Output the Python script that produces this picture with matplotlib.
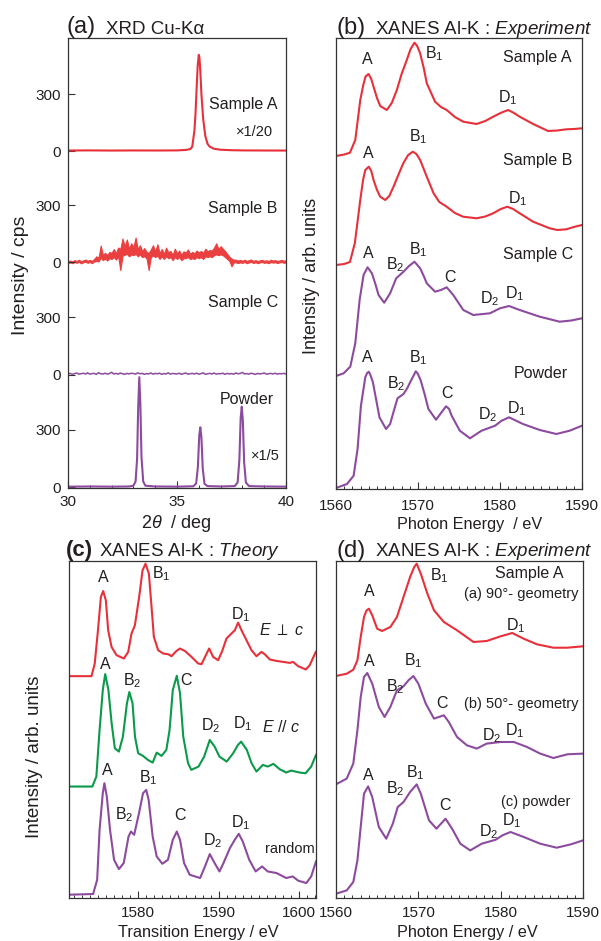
import numpy as np
import matplotlib
matplotlib.use("Agg")
import matplotlib.pyplot as plt
from matplotlib.ticker import MultipleLocator

plt.rcParams['font.family'] = ['Liberation Sans', 'DejaVu Sans']
plt.rcParams['mathtext.fontset'] = 'custom'
plt.rcParams['mathtext.rm'] = 'Liberation Sans'
plt.rcParams['mathtext.it'] = 'Liberation Sans:italic'
plt.rcParams['mathtext.bf'] = 'Liberation Sans:bold'

RED = '#e8303a'
RED_LIGHT = '#ea4040'
PURPLE = '#8c4b9e'
GREEN = '#0b9a4a'
TXT = '#231f20'

# ---------------- (a) XRD data, 2theta [deg] vs cps ----------------
# Sample A (raw counts, plotted x 1/20)
xrd_a = np.array([
    (30.0, 100), (31.0, 110), (32.0, 95), (33.0, 105), (34.0, 100), (35.0, 110),
    (35.4, 160), (35.6, 240), (35.7, 500), (35.8, 2200), (35.85, 4000), (35.9, 6600),
    (35.95, 9000), (36.0, 10100), (36.03, 9800), (36.07, 8400), (36.12, 6000),
    (36.2, 3400), (36.3, 1600), (36.4, 800), (36.5, 500), (36.7, 280), (37.0, 180),
    (37.5, 130), (38.0, 110), (39.0, 100), (40.0, 95)])

# Samples B and C, scan 30-40 deg in 0.1 deg steps
two_theta = np.round(np.arange(300, 401) / 10.0, 1)
# Sample B is very noisy: upper and lower edge of the noise band
xrd_b_hi = np.array([
    6, 10, 5, 12, 8, 14, 6, 11, 15, 9,
    13, 8, 18, 32, 25, 88, 40, 50, 38, 55,
    50, 70, 48, 78, 70, 125, 85, 120, 72, 100,
    80, 130, 70, 90, 60, 75, 55, 50, 68, 90,
    58, 95, 50, 70, 45, 78, 52, 60, 40, 72,
    48, 62, 40, 58, 52, 68, 45, 55, 48, 62,
    52, 60, 50, 72, 58, 65, 62, 78, 100, 70,
    85, 72, 60, 45, 30, 20, 15, 14, 10, 13,
    9, 14, 8, 12, 15, 8, 12, 7, 11, 13,
    9, 11, 8, 14, 10, 12, 8, 10, 13, 9,
    11])
xrd_b_lo = np.array([
    -3, 0, -4, 2, -2, 3, -5, 1, 4, -2,
    2, -4, 5, 8, 5, 25, 12, 20, 10, 22,
    18, 28, 15, 32, -40, 35, 40, 45, 32, 42,
    38, 45, 32, 42, 28, 32, 22, -40, 28, 36,
    28, 36, 18, 32, 18, 32, 22, 28, 12, 28,
    18, 28, 12, 22, 22, 28, 18, 22, 18, 28,
    22, 28, 18, 32, 28, 32, 28, 38, 42, 38,
    42, 38, 28, 18, 8, -20, 0, 0, -3, 0,
    -2, 2, -4, 0, 3, -3, 1, -4, 0, 2,
    -2, 0, -4, 2, -1, 1, -3, 0, 2, -2,
    0])
xrd_c = np.array([
    3, 6, 1, 5, 8, 2, 4, 7, 3, 9,
    2, 5, 6, 1, 10, 4, 3, 7, 2, 5,
    12, 3, 6, 2, 8, 4, 1, 6, 3, 7,
    5, 2, 9, 4, 6, 1, 5, 3, 8, 2,
    6, 4, 7, 1, 5, 3, 9, 2, 6, 4,
    3, 7, 1, 5, 8, 2, 4, 6, 3, 7,
    2, 5, 9, 1, 4, 6, 3, 8, 2, 5,
    4, 7, 1, 6, 3, 5, 2, 8, 4, 6,
    11, 3, 5, 2, 7, 4, 1, 6, 3, 5,
    8, 2, 4, 6, 3, 7, 2, 5, 4, 6,
    3])

# Powder (raw counts, plotted x 1/5)
xrd_p = np.array([
    (30.0, 15), (31.0, 20), (32.0, 15), (32.8, 20), (33.0, 40), (33.1, 150),
    (33.17, 750), (33.22, 2100), (33.27, 2875), (33.32, 2150), (33.37, 800),
    (33.45, 150), (33.55, 40), (34.0, 20), (35.0, 15), (35.75, 25), (35.88, 100),
    (35.96, 550), (36.02, 1350), (36.07, 1565), (36.12, 1300), (36.18, 500),
    (36.26, 90), (36.4, 30), (37.0, 20), (37.65, 30), (37.78, 125), (37.86, 700),
    (37.92, 1800), (37.97, 2105), (38.02, 1750), (38.08, 650), (38.16, 125),
    (38.3, 30), (39.0, 20), (40.0, 15)])

# ---------------- (b) XANES experiment, photon energy [eV] ----------------
b_sample_a = np.array([
    (1560.0, 0), (1561.0, 1.5), (1561.7, 3.3), (1562.35, 16), (1562.96, 56),
    (1563.3, 70), (1563.6, 79.5), (1563.97, 82), (1564.3, 77), (1564.58, 69.3),
    (1565.0, 58), (1565.39, 50), (1566.2, 46), (1566.8, 53), (1567.42, 66),
    (1568.0, 82), (1568.63, 96), (1569.1, 107), (1569.57, 113.3), (1569.9, 110),
    (1570.26, 102.7), (1570.7, 88), (1571.07, 72.7), (1572.08, 54.3), (1572.8, 49),
    (1573.5, 46), (1574.5, 39), (1575.52, 34.3), (1577.15, 32), (1578.2, 35),
    (1579.17, 39.3), (1580.2, 43.5), (1581.0, 46), (1581.7, 43), (1582.4, 39.3),
    (1584.04, 32), (1585.86, 25), (1587.0, 25.5), (1588.09, 26.7), (1589.0, 27),
    (1590.0, 27.7)])
b_sample_b = np.array([
    (1560.0, 0), (1561.0, 1), (1561.7, 3), (1562.3, 22), (1562.96, 65), (1563.3, 85),
    (1563.57, 95), (1564.0, 98.3), (1564.3, 94), (1564.58, 85), (1565.0, 75),
    (1565.39, 68.3), (1566.0, 65), (1566.5, 69), (1567.0, 78), (1567.6, 90),
    (1568.2, 101.7), (1568.8, 110), (1569.37, 113.3), (1569.8, 111), (1570.26, 105),
    (1570.7, 96), (1571.07, 88.3), (1571.9, 71.7), (1572.6, 63), (1573.5, 58.3),
    (1574.5, 52), (1575.5, 48.3), (1577.15, 46.7), (1578.2, 48.5), (1579.17, 51.7),
    (1580.1, 56), (1580.9, 58.3), (1581.6, 56), (1582.4, 51.7), (1584.04, 43.3),
    (1586.06, 36.7), (1587.0, 35), (1588.1, 35.7), (1589.0, 38), (1590.0, 40)])
b_sample_c = np.array([
    (1560.0, 0), (1560.93, 2.7), (1561.74, 9.3), (1562.35, 32.7), (1562.88, 76),
    (1563.36, 101), (1563.85, 108.7), (1564.38, 102.7), (1564.8, 92), (1565.19, 81),
    (1565.88, 73.3), (1566.6, 82.7), (1567.34, 97.7), (1568.23, 104.3), (1568.9, 110),
    (1569.57, 114.3), (1570.26, 107.7), (1570.7, 100), (1571.07, 92.7), (1572.08, 84.3),
    (1572.8, 86), (1573.5, 88.7), (1574.3, 81), (1575.52, 66), (1576.74, 61),
    (1578.77, 62.7), (1580.0, 67.7), (1581.1, 70), (1582.4, 66), (1584.85, 59.3),
    (1587.28, 54.3), (1588.7, 55.5), (1590.0, 57.7)])
b_powder = np.array([
    (1560.0, 0), (1561.34, 4), (1562.15, 12.3), (1562.63, 39), (1563.04, 82.3),
    (1563.57, 110.7), (1563.8, 115), (1564.0, 116.3), (1564.2, 113), (1564.5, 105.7),
    (1565.3, 70.7), (1566.1, 59), (1566.6, 64), (1567.0, 75.7), (1567.5, 89.7),
    (1568.23, 94), (1568.7, 100), (1569.04, 105.7), (1569.73, 116.7), (1570.0, 114),
    (1570.34, 107.3), (1570.8, 94), (1571.27, 79), (1572.2, 68.3), (1572.9, 76),
    (1573.42, 81.7), (1573.8, 79), (1574.1, 72.3), (1575.1, 57.3), (1576.34, 49.7),
    (1577.75, 57.3), (1579.4, 62.3), (1580.2, 67.3), (1581.1, 70.7), (1582.8, 64),
    (1584.85, 58), (1586.87, 54), (1588.5, 57.3), (1590.0, 62.3)])

# ---------------- (c) XANES theory, transition energy [eV] ----------------
c_perp = np.array([
    (1571.4, 0), (1574.2, 0), (1574.6, 12.7), (1575.0, 46), (1575.36, 79.3),
    (1575.65, 85.3), (1575.98, 76), (1576.27, 46), (1576.69, 29.3), (1577.31, 21),
    (1578.22, 17.7), (1578.76, 24.3), (1579.17, 42.7), (1579.59, 51), (1580.12, 79.3),
    (1580.54, 106), (1580.91, 112.7), (1581.33, 102.7), (1581.66, 69.3), (1581.95, 39.3),
    (1582.48, 26), (1583.11, 22.7), (1583.73, 22), (1584.14, 20), (1584.76, 25.3),
    (1585.18, 27.7), (1585.8, 25.3), (1586.63, 19.3), (1587.45, 12.7), (1587.87, 12),
    (1588.41, 21), (1588.82, 27.7), (1589.32, 19.3), (1589.94, 16), (1590.48, 26),
    (1590.97, 37.7), (1591.59, 42.7), (1592.01, 46), (1592.42, 53.7), (1592.84, 46),
    (1593.46, 36), (1594.08, 26), (1594.7, 20), (1595.32, 24.3), (1595.73, 22),
    (1596.36, 16.7), (1597.18, 15.3), (1598.01, 14.3), (1598.84, 13.3), (1599.25, 14.3),
    (1599.88, 10), (1600.83, 6.7), (1601.32, 11), (1602.07, 24.3)])
c_para = np.array([
    (1571.4, 0), (1574.3, 0), (1574.8, 10), (1575.2, 56.7), (1575.6, 96.7),
    (1575.9, 112.7), (1576.3, 96.7), (1576.7, 63.3), (1577.1, 38.3), (1577.6, 35),
    (1578.1, 50), (1578.6, 83.3), (1578.9, 94.7), (1579.3, 83.3), (1579.6, 50),
    (1580.0, 33.3), (1580.6, 30.7), (1581.2, 26.7), (1581.8, 24), (1582.3, 34),
    (1582.9, 30.7), (1583.5, 36.7), (1583.9, 56.7), (1584.3, 96.7), (1584.8, 111),
    (1585.2, 93.3), (1585.6, 50), (1586.2, 23.3), (1586.6, 16.7), (1587.5, 20),
    (1588.2, 30), (1588.9, 46.7), (1589.5, 40), (1590.1, 30), (1591.0, 25),
    (1591.8, 33.3), (1592.4, 41.7), (1592.8, 45), (1593.5, 36.7), (1594.1, 23.3),
    (1594.7, 15), (1595.5, 21.7), (1596.1, 20), (1596.8, 22.7), (1597.6, 17.3),
    (1598.4, 14), (1599.0, 16), (1600.1, 14), (1600.8, 13.3), (1601.5, 20),
    (1602.1, 31.7)])
c_random = np.array([
    (1571.4, 0), (1574.4, 0.7), (1574.9, 15), (1575.2, 65), (1575.6, 101.7),
    (1575.8, 111.7), (1576.1, 98.3), (1576.5, 65), (1577.0, 35), (1577.6, 25.7),
    (1578.2, 31.7), (1578.8, 58.3), (1579.1, 63.3), (1579.5, 60), (1580.1, 81.7),
    (1580.6, 101.7), (1581.0, 105), (1581.3, 95), (1581.8, 58.3), (1582.3, 38.3),
    (1583.0, 31), (1583.7, 35), (1584.3, 55), (1584.8, 63.3), (1585.2, 55),
    (1585.7, 31.7), (1586.4, 20), (1587.7, 16.7), (1588.3, 28.3), (1588.9, 40.7),
    (1589.5, 31.7), (1590.1, 23.3), (1590.6, 31.7), (1591.4, 46.7), (1592.0, 55),
    (1592.5, 61), (1593.0, 53.3), (1593.8, 35), (1594.6, 23.3), (1595.4, 28.3),
    (1596.1, 23.3), (1597.2, 21.7), (1598.4, 16.7), (1599.2, 18.3), (1599.9, 14),
    (1600.9, 11.7), (1601.5, 18.3), (1602.1, 33.3)])

# ---------------- (d) XANES experiment, Sample A geometry ----------------
d_90 = np.array([
    (1560.0, 0), (1561.3, 2.3), (1562.1, 6.3), (1562.6, 15.7), (1563.0, 39),
    (1563.4, 59), (1563.7, 65.5), (1564.0, 67.3), (1564.4, 60.7), (1565.0, 47.3),
    (1565.6, 45), (1566.6, 49), (1567.4, 59), (1568.2, 79), (1569.0, 99),
    (1569.5, 109), (1569.8, 112.3), (1570.3, 102.3), (1571.1, 82.3), (1571.9, 65.7),
    (1573.1, 54), (1574.7, 45.7), (1576.7, 34), (1578.3, 35), (1580.0, 39.7),
    (1581.4, 43), (1582.8, 37.3), (1584.4, 31.7), (1586.4, 28.3), (1588.1, 28.3),
    (1590.0, 29.7)])
d_50 = np.array([
    (1560.0, 0), (1561.3, 5.7), (1562.1, 20.7), (1562.6, 54), (1563.0, 87.3),
    (1563.4, 107.3), (1563.8, 111.3), (1564.4, 100.7), (1565.2, 77.3), (1565.9, 67.3),
    (1566.6, 77.3), (1567.4, 94), (1568.2, 98), (1568.8, 104), (1569.4, 108.3),
    (1570.0, 100.7), (1570.9, 80.7), (1571.9, 65.7), (1573.1, 69), (1573.7, 62.3),
    (1574.7, 47.3), (1575.9, 39), (1577.1, 35.7), (1578.3, 40.7), (1580.0, 42.3),
    (1581.6, 42.3), (1583.2, 37.3), (1584.8, 30.7), (1586.4, 26.3), (1588.1, 30),
    (1590.0, 30.7)])
d_powder = np.array([
    (1560.0, 0), (1561.3, 3.3), (1562.1, 11.7), (1562.6, 33.3), (1563.0, 66.7),
    (1563.4, 100), (1563.9, 107.3), (1564.4, 96.7), (1565.2, 66.7), (1566.1, 55),
    (1566.9, 70), (1567.5, 86.7), (1568.2, 91.7), (1569.0, 101.7), (1569.8, 109.3),
    (1570.3, 100), (1571.3, 73.3), (1572.2, 65), (1573.3, 75), (1574.1, 65),
    (1575.1, 50), (1576.3, 43.3), (1577.7, 50), (1579.4, 54), (1580.2, 58.3),
    (1581.2, 61.7), (1582.8, 56.7), (1584.8, 50), (1586.8, 46), (1588.5, 49.3),
    (1590.0, 53.3)])

# ---------------- figure ----------------
W, H = 601, 941
fig = plt.figure(figsize=(W / 100, H / 100), dpi=100)


def box(l, t, r, b):
    return [l / W, 1 - b / H, (r - l) / W, (b - t) / H]


def fp(x, y):
    return x / W, 1 - y / H


def style(ax, pad):
    for s in ax.spines.values():
        s.set_color('#333333')
        s.set_linewidth(0.9)
    ax.tick_params(which='both', direction='in', top=False, right=False,
                   colors='#333333', labelcolor=TXT, labelsize=11, pad=pad)
    ax.tick_params(which='major', length=5, width=0.8)
    ax.tick_params(which='minor', length=2.5, width=0.7)


ax_a = fig.add_axes(box(68, 38, 286, 488))
ax_b = fig.add_axes(box(336, 38, 582, 489))
ax_c = fig.add_axes(box(69, 561, 316, 898))
ax_d = fig.add_axes(box(336, 561, 583, 898))

LBL = 11.5

# ---- (a)
offs = [1755, 1175, 589, 0]
ax_a.plot(xrd_a[:, 0], xrd_a[:, 1] / 20 + offs[0], color=RED, lw=1.5)
ax_a.fill_between(two_theta, xrd_b_lo + offs[1], xrd_b_hi + offs[1],
                  color=RED_LIGHT, lw=0.8, edgecolor=RED_LIGHT)
ax_a.plot(two_theta, xrd_c + offs[2], color=PURPLE, lw=1.1)
ax_a.plot(xrd_p[:, 0], xrd_p[:, 1] / 5 + offs[3], color=PURPLE, lw=1.5)
ax_a.set_xlim(30, 40)
ax_a.set_ylim(-4, 2348)
ax_a.set_xticks([30, 35, 40])
ax_a.xaxis.set_minor_locator(MultipleLocator(1))
ax_a.set_yticks([o + v for o in offs for v in (0, 300)])
ax_a.set_yticklabels(['0', '300'] * 4)
style(ax_a, 5)
for txt, x, y, fs in [('Sample A', 38.03, 1998, LBL), ('×1/20', 38.55, 1858, 10.5),
                      ('Sample B', 38.03, 1455, LBL), ('Sample C', 38.04, 963, LBL),
                      ('Powder', 38.2, 459, LBL), ('×1/5', 39.05, 163, 10.5)]:
    ax_a.text(x, y, txt, ha='center', va='center', fontsize=fs, color=TXT)

# ---- (b)
for arr, off, col in [(b_sample_a, 333, RED), (b_sample_b, 224, RED),
                      (b_sample_c, 113, PURPLE), (b_powder, 1, PURPLE)]:
    ax_b.plot(arr[:, 0], arr[:, 1] + off, color=col, lw=1.5)
ax_b.set_xlim(1560, 1590)
ax_b.set_ylim(0, 451)
ax_b.set_yticks([])
ax_b.set_xticks([1560, 1570, 1580, 1590])
ax_b.xaxis.set_minor_locator(MultipleLocator(1))
style(ax_b, 7)
labels_b = [('A', 1563.8, 429), ('B$_1$', 1572.0, 435), ('Sample A', 1584.6, 431),
            ('D$_1$', 1581.0, 391),
            ('A', 1563.9, 336), ('B$_1$', 1570.0, 352), ('Sample B', 1584.6, 328),
            ('D$_1$', 1582.2, 290),
            ('A', 1563.9, 236), ('B$_2$', 1567.2, 224), ('B$_1$', 1570.0, 239),
            ('Sample C', 1584.6, 234), ('C', 1573.9, 212), ('D$_2$', 1578.7, 190),
            ('D$_1$', 1581.8, 195),
            ('A', 1563.8, 131), ('B$_2$', 1567.4, 105), ('B$_1$', 1570.0, 131),
            ('Powder', 1585.0, 116), ('C', 1573.5, 96), ('D$_2$', 1578.5, 74),
            ('D$_1$', 1582.0, 80)]
for txt, x, y in labels_b:
    ax_b.text(x, y, txt, ha='center', va='center', fontsize=LBL, color=TXT)

# ---- (c)
for arr, off, col in [(c_perp, 222.3, RED), (c_para, 111.7, GREEN), (c_random, 3.3, PURPLE)]:
    ax_c.plot(arr[:, 0], arr[:, 1] + off, color=col, lw=1.5)
ax_c.set_xlim(1571.4, 1602.1)
ax_c.set_ylim(0, 337.7)
ax_c.set_yticks([])
ax_c.set_xticks([1580, 1590, 1600])
ax_c.xaxis.set_minor_locator(MultipleLocator(1))
style(ax_c, 6)
labels_c = [('A', 1575.6, 321), ('B$_1$', 1582.9, 325), ('D$_1$', 1592.7, 284),
            ('A', 1575.9, 234), ('B$_2$', 1579.2, 218), ('C', 1585.9, 218),
            ('D$_2$', 1589.0, 173), ('D$_1$', 1593.0, 175),
            ('A', 1576.1, 128), ('B$_2$', 1578.3, 84), ('B$_1$', 1581.2, 121),
            ('C', 1585.2, 83), ('D$_2$', 1589.2, 57), ('D$_1$', 1592.8, 76)]
for txt, x, y in labels_c:
    ax_c.text(x, y, txt, ha='center', va='center', fontsize=LBL, color=TXT)
ax_c.text(1597.9, 269, r'$E$ $\perp$ $c$', ha='center', va='center', fontsize=LBL, color=TXT)
ax_c.text(1597.8, 171, r'$E\ //\ c$', ha='center', va='center', fontsize=LBL, color=TXT)
ax_c.text(1598.8, 49, 'random', ha='center', va='center', fontsize=10.5, color=TXT)

# ---- (d)
for arr, off, col in [(d_90, 222, RED), (d_50, 113.7, PURPLE), (d_powder, 4.3, PURPLE)]:
    ax_d.plot(arr[:, 0], arr[:, 1] + off, color=col, lw=1.5)
ax_d.set_xlim(1560, 1590)
ax_d.set_ylim(0, 337)
ax_d.set_yticks([])
ax_d.set_xticks([1560, 1570, 1580, 1590])
ax_d.xaxis.set_minor_locator(MultipleLocator(1))
style(ax_d, 6)
labels_d = [('A', 1564.0, 306), ('B$_1$', 1572.5, 322.7), ('D$_1$', 1581.8, 272.7),
            ('A', 1564.0, 237), ('B$_2$', 1567.2, 211.7), ('B$_1$', 1569.4, 237.7),
            ('C', 1572.9, 195), ('D$_2$', 1578.9, 162.7), ('D$_1$', 1581.7, 167.7),
            ('A', 1563.9, 122.7), ('B$_2$', 1567.2, 109.3), ('B$_1$', 1569.6, 125),
            ('C', 1573.2, 92.7), ('D$_2$', 1578.5, 66.7), ('D$_1$', 1581.3, 77)]
for txt, x, y in labels_d:
    ax_d.text(x, y, txt, ha='center', va='center', fontsize=LBL, color=TXT)
ax_d.text(1583.5, 324.3, 'Sample A', ha='center', va='center', fontsize=LBL, color=TXT)
ax_d.text(1582.5, 304.3, '(a) 90°- geometry', ha='center', va='center', fontsize=10.5, color=TXT)
ax_d.text(1582.5, 194.3, '(b) 50°- geometry', ha='center', va='center', fontsize=10.5, color=TXT)
ax_d.text(1584.2, 96, '(c) powder', ha='center', va='center', fontsize=10.5, color=TXT)

# ---- panel titles
TT = 13.5
fig.text(*fp(66, 33.5), '(a)', fontsize=17, va='baseline', color=TXT)
fig.text(*fp(106, 33.5), 'XRD Cu-Kα', fontsize=TT, va='baseline', color=TXT)
fig.text(*fp(337, 34), '(b)', fontsize=17, va='baseline', color=TXT)
fig.text(*fp(375, 34), r'XANES Al-K : $\mathit{Experiment}$', fontsize=TT, va='baseline', color=TXT)
fig.text(*fp(66, 556), '(c)', fontsize=16, va='baseline', color=TXT, fontweight='bold')
fig.text(*fp(99, 556), r'XANES Al-K : $\mathit{Theory}$', fontsize=TT, va='baseline', color=TXT)
fig.text(*fp(337, 556.5), '(d)', fontsize=17, va='baseline', color=TXT)
fig.text(*fp(375, 556.5), r'XANES Al-K : $\mathit{Experiment}$', fontsize=TT, va='baseline', color=TXT)

# ---- axis labels
fig.text(*fp(21, 275), 'Intensity / cps', rotation=90, ha='center', va='center', fontsize=14, color=TXT)
fig.text(*fp(176, 523), r'2$\theta$  / deg', ha='center', va='center', fontsize=13, color=TXT)
fig.text(*fp(312, 276), 'Intensity / arb. units', rotation=90, ha='center', va='center', fontsize=13, color=TXT)
fig.text(*fp(470, 524), 'Photon Energy  / eV', ha='center', va='center', fontsize=11.7, color=TXT)
fig.text(*fp(35, 757), 'Intensity / arb. units', rotation=90, ha='center', va='center', fontsize=13.5, color=TXT)
fig.text(*fp(198, 933), 'Transition Energy / eV', ha='center', va='center', fontsize=11.7, color=TXT)
fig.text(*fp(467, 932), 'Photon Energy / eV', ha='center', va='center', fontsize=11.7, color=TXT)

fig.savefig('out.png', dpi=100)
